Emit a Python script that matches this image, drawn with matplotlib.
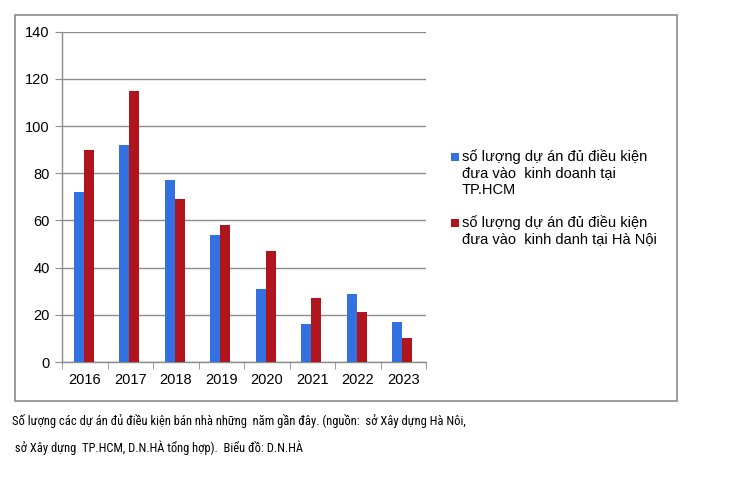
import matplotlib
matplotlib.use("Agg")
import matplotlib.pyplot as plt
from matplotlib.patches import Rectangle
import numpy as np

years = ["2016", "2017", "2018", "2019", "2020", "2021", "2022", "2023"]
hcm = [72, 92, 77, 54, 31, 16, 29, 17]
hanoi = [90, 115, 69, 58, 47, 27, 21, 10]
label_hcm = "số lượng dự án đủ điều kiện\nđưa vào  kinh doanh tại\nTP.HCM"
label_hn = "số lượng dự án đủ điều kiện\nđưa vào  kinh danh tại Hà Nội"
caption = ("Số lượng các dự án đủ điều kiện bán nhà những  năm gần đây. (nguồn:  sở Xây dựng Hà Nôi,\n"
           " sở Xây dựng  TP.HCM, D.N.HÀ tổng hợp).  Biểu đồ: D.N.HÀ")

plt.rcParams['font.family'] = ['Liberation Sans', 'DejaVu Sans']

fig = plt.figure(figsize=(7.3, 4.8), dpi=100)
fig.patches.append(Rectangle((15/730, 1-401/480), 662/730, 386/480, transform=fig.transFigure,
                             fill=False, edgecolor='#8a8a8a', linewidth=1.2))

ax = fig.add_axes([62/730, 1-362/480, 364/730, 330.3/480])
x = np.arange(len(years))
w = 0.22
b1 = ax.bar(x - w/2 - 0.02, hcm, w, color='#3370e0', zorder=3)
b2 = ax.bar(x + w/2 - 0.02, hanoi, w, color='#b0141c', zorder=3)

ax.set_xlim(-0.5, len(years) - 0.5)
ax.set_ylim(0, 140)
ax.set_yticks(range(0, 141, 20))
ax.yaxis.grid(True, color='#8c8c8c', linewidth=1.0, zorder=0)
ax.set_axisbelow(True)
ax.set_xticks(x)
ax.set_xticklabels(years)
ax.set_xticks(np.arange(-0.5, len(years), 1.0), minor=True)
ax.tick_params(axis='x', which='major', length=0, labelsize=10.5, pad=8)
ax.tick_params(axis='x', which='minor', length=5, color='#8c8c8c', direction='out')
ax.tick_params(axis='y', length=5, color='#8c8c8c', labelsize=10.5, direction='out', pad=4)
for s in ['top', 'right']:
    ax.spines[s].set_visible(False)
for s in ['left', 'bottom']:
    ax.spines[s].set_color('#8c8c8c')
    ax.spines[s].set_linewidth(1.0)

# legend (handle aligned with the first line of each label)
for (bars, lab, ytop) in [(b1, label_hcm, 149), (b2, label_hn, 215)]:
    fig.patches.append(Rectangle((451/730, 1-(ytop+12)/480), 8/730, 8/480, transform=fig.transFigure,
                                 facecolor=bars.patches[0].get_facecolor(), edgecolor='none'))
    fig.text(462/730, 1-ytop/480, lab, fontsize=10.5, va='top', ha='left', linespacing=1.22)

fig.text(12/730, 1-414/480, caption, fontsize=9.0, family=['Roboto Condensed', 'Carlito', 'DejaVu Sans'],
         va='top', ha='left', linespacing=2.1)

fig.savefig("out.png", dpi=100)
